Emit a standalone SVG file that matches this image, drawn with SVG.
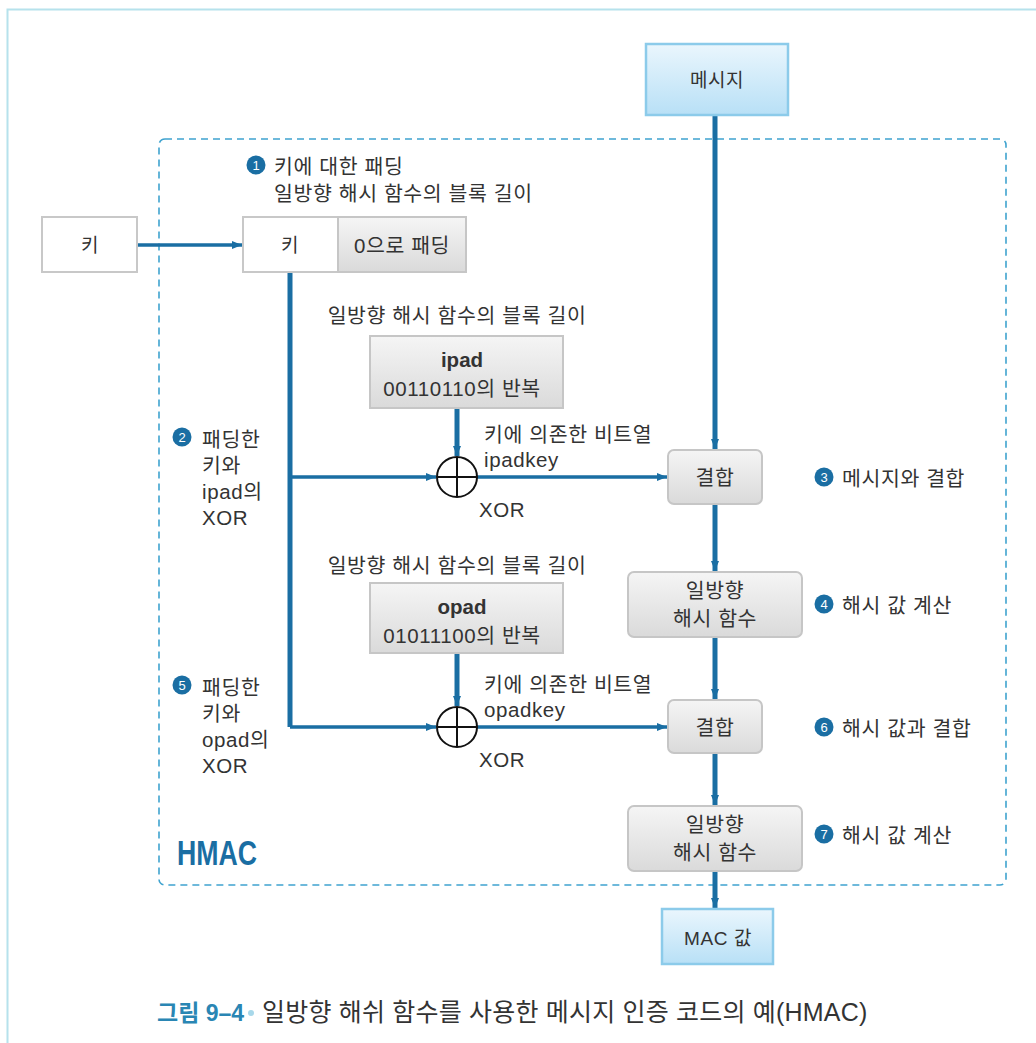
<svg xmlns="http://www.w3.org/2000/svg" width="1036" height="1043" viewBox="0 0 1036 1043">
<defs>
<linearGradient id="gGray" x1="0" y1="0" x2="0" y2="1">
<stop offset="0" stop-color="#f5f5f5"/><stop offset="1" stop-color="#dadada"/>
</linearGradient>
<linearGradient id="gBlue" x1="0" y1="0" x2="0" y2="1">
<stop offset="0" stop-color="#eaf6fd"/><stop offset="1" stop-color="#b8e0f6"/>
</linearGradient>
<marker id="arr" viewBox="0 0 10 8" refX="10" refY="4" markerWidth="10" markerHeight="8" markerUnits="userSpaceOnUse" orient="auto">
<path d="M0,0 L10,4 L0,8 Z" fill="#1a6ea3"/>
</marker>
<style>
text{font-family:"Liberation Sans","Noto Sans CJK KR",sans-serif;fill:#333;font-size:20.5px;letter-spacing:0.6px}
.c{text-anchor:middle}
.b{font-weight:bold}
.gray{fill:url(#gGray);stroke:#c6c6c6;stroke-width:2}
.blue{fill:url(#gBlue);stroke:#8ccbea;stroke-width:2.5}
.white{fill:#fff;stroke:#c8c8c8;stroke-width:2}
.thick{fill:none;stroke:#1a6ea3;stroke-width:5}
.thin{fill:none;stroke:#1a6ea3;stroke-width:3.5}
.num{fill:#1a6ea3}
.numt{fill:#fff;font-size:13px;text-anchor:middle;letter-spacing:0}
.xor{fill:#fff;stroke:#111;stroke-width:2}
</style>
</defs>
<rect width="1036" height="1043" fill="#fff"/>
<path d="M7.5 1043 V9.5 H1036" fill="none" stroke="#b6e2ec" stroke-width="2"/>

<g id="hmac-frame">
<rect x="159" y="139" width="847" height="746" rx="6" fill="none" stroke="#3fa3cf" stroke-width="1.6" stroke-dasharray="7,5"/>
<text x="177" y="865" class="b" style="font-size:35px;fill:#1a6ea3;letter-spacing:0" textLength="80" lengthAdjust="spacingAndGlyphs">HMAC</text>
</g>

<g id="connectors">
<line class="thick" x1="715" y1="116" x2="715" y2="449" marker-end="url(#arr)"/>
<line class="thin" x1="138" y1="245" x2="242" y2="245" marker-end="url(#arr)"/>
<path class="thick" d="M290 273 V727"/>
<line class="thin" x1="290" y1="477" x2="436" y2="477" marker-end="url(#arr)"/>
<line class="thin" x1="290" y1="727" x2="436" y2="727" marker-end="url(#arr)"/>
<line class="thick" x1="457" y1="409" x2="457" y2="456" marker-end="url(#arr)"/>
<line class="thick" x1="457" y1="654" x2="457" y2="706" marker-end="url(#arr)"/>
<line class="thin" x1="477" y1="477" x2="667" y2="477" marker-end="url(#arr)"/>
<line class="thin" x1="477" y1="727" x2="667" y2="727" marker-end="url(#arr)"/>
<line class="thick" x1="715" y1="505" x2="715" y2="571" marker-end="url(#arr)"/>
<line class="thick" x1="715" y1="638" x2="715" y2="699" marker-end="url(#arr)"/>
<line class="thick" x1="715" y1="754" x2="715" y2="805" marker-end="url(#arr)"/>
<line class="thick" x1="715" y1="872" x2="715" y2="908" marker-end="url(#arr)"/>
</g>

<g id="message">
<rect class="blue" x="646" y="44" width="142" height="71"/>
<text class="c" x="717" y="87" style="font-size:19px">메시지</text>
</g>

<g id="key-input">
<rect class="white" x="42" y="217" width="95" height="55"/>
<text class="c" x="90" y="252" style="font-size:19px">키</text>
</g>

<g id="padded-key">
<rect class="white" x="243" y="217" width="95" height="55"/>
<text class="c" x="290" y="252" style="font-size:19px">키</text>
<rect class="gray" x="338" y="217" width="128" height="55"/>
<text class="c" x="402" y="253">0으로 패딩</text>
</g>

<g id="step1-label">
<circle class="num" cx="256" cy="165" r="9.5"/>
<text class="numt" x="256" y="169.5">1</text>
<text x="274" y="174">키에 대한 패딩</text>
<text x="274" y="201">일방향 해시 함수의 블록 길이</text>
</g>

<g id="ipad">
<text class="c" x="457" y="323">일방향 해시 함수의 블록 길이</text>
<rect class="gray" x="370" y="336" width="193" height="72"/>
<text class="c b" x="462" y="367" style="letter-spacing:0">ipad</text>
<text class="c" x="462" y="396">00110110의 반복</text>
</g>

<g id="xor1">
<circle class="xor" cx="457" cy="477" r="20"/>
<path d="M437 477 H477 M457 457 V497" stroke="#111" stroke-width="2"/>
<text x="484" y="442">키에 의존한 비트열</text>
<text x="484" y="467">ipadkey</text>
<text x="479" y="517">XOR</text>
</g>

<g id="step2-label">
<circle class="num" cx="182" cy="437" r="9.5"/>
<text class="numt" x="182" y="441.5">2</text>
<text x="202" y="447">패딩한</text>
<text x="202" y="473">키와</text>
<text x="202" y="499">ipad의</text>
<text x="202" y="525">XOR</text>
</g>

<g id="concat1">
<rect class="gray" x="668" y="450" width="94" height="54" rx="6"/>
<text class="c" x="715" y="485">결합</text>
</g>
<g id="step3-label">
<circle class="num" cx="824" cy="477" r="9.5"/>
<text class="numt" x="824" y="481.5">3</text>
<text x="842" y="486">메시지와 결합</text>
</g>

<g id="hash1">
<rect class="gray" x="628" y="572" width="174" height="65" rx="6"/>
<text class="c" x="715" y="598">일방향</text>
<text class="c" x="715" y="626">해시 함수</text>
</g>
<g id="step4-label">
<circle class="num" cx="824" cy="604" r="9.5"/>
<text class="numt" x="824" y="608.5">4</text>
<text x="842" y="613">해시 값 계산</text>
</g>

<g id="opad">
<text class="c" x="457" y="573">일방향 해시 함수의 블록 길이</text>
<rect class="gray" x="370" y="583" width="193" height="70"/>
<text class="c b" x="462" y="614" style="letter-spacing:0">opad</text>
<text class="c" x="462" y="643">01011100의 반복</text>
</g>

<g id="xor2">
<circle class="xor" cx="457" cy="727" r="20"/>
<path d="M437 727 H477 M457 707 V747" stroke="#111" stroke-width="2"/>
<text x="484" y="692">키에 의존한 비트열</text>
<text x="484" y="717">opadkey</text>
<text x="479" y="767">XOR</text>
</g>

<g id="step5-label">
<circle class="num" cx="182" cy="685" r="9.5"/>
<text class="numt" x="182" y="689.5">5</text>
<text x="202" y="695">패딩한</text>
<text x="202" y="721">키와</text>
<text x="202" y="747">opad의</text>
<text x="202" y="773">XOR</text>
</g>

<g id="concat2">
<rect class="gray" x="668" y="700" width="94" height="53" rx="6"/>
<text class="c" x="715" y="735">결합</text>
</g>
<g id="step6-label">
<circle class="num" cx="824" cy="727" r="9.5"/>
<text class="numt" x="824" y="731.5">6</text>
<text x="842" y="736">해시 값과 결합</text>
</g>

<g id="hash2">
<rect class="gray" x="628" y="806" width="174" height="65" rx="6"/>
<text class="c" x="715" y="832">일방향</text>
<text class="c" x="715" y="860">해시 함수</text>
</g>
<g id="step7-label">
<circle class="num" cx="824" cy="834" r="9.5"/>
<text class="numt" x="824" y="838.5">7</text>
<text x="842" y="843">해시 값 계산</text>
</g>

<g id="mac">
<rect class="blue" x="662" y="909" width="111" height="55"/>
<text class="c" x="718" y="945" style="font-size:19px">MAC 값</text>
</g>

<g id="caption">
<text x="157" y="1021" class="b" style="font-size:23px;fill:#2a86b4;letter-spacing:0">그림 9–4</text>
<circle cx="251" cy="1013" r="3" fill="#a8d8ea"/>
<text x="262" y="1021" style="font-size:25px;letter-spacing:0.2px">일방향 해쉬 함수를 사용한 메시지 인증 코드의 예(HMAC)</text>
</g>
</svg>
